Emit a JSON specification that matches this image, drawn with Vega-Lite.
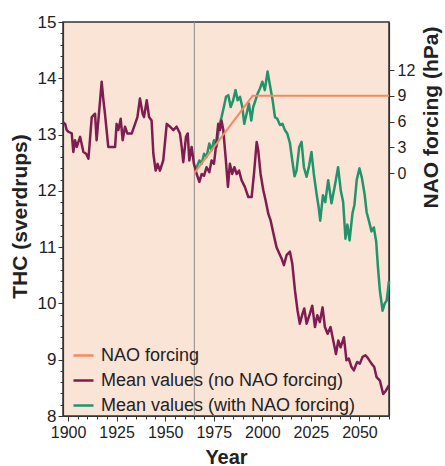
{
  "$schema": "https://vega.github.io/schema/vega-lite/v6.json",
  "width": 326,
  "height": 394,
  "autosize": {"type": "none"},
  "padding": {"left": 63, "top": 22, "right": 56, "bottom": 50},
  "background": "white",
  "config": {
    "font": "Liberation Sans",
    "view": {"fill": "#fae4d6", "stroke": "#333333", "strokeWidth": 1.5},
    "axis": {"domainColor": "#333333", "domainWidth": 1.2, "tickColor": "#333333", "labelColor": "#222222", "titleColor": "#222222", "titleFontWeight": "bold", "grid": false, "labelOverlap": false}
  },
  "datasets": {
    "marker": [{"year": 1965}],
    "nao": [
      {"year": 1965, "series": "NAO forcing", "value": 0},
      {"year": 1995, "series": "NAO forcing", "value": 9},
      {"year": 2065.2, "series": "NAO forcing", "value": 9}
    ],
    "thc": [
      {"year": 1965.0, "series": "Mean values (with NAO forcing)", "value": 12.42},
      {"year": 1966.2, "series": "Mean values (with NAO forcing)", "value": 12.42},
      {"year": 1967.6, "series": "Mean values (with NAO forcing)", "value": 12.54},
      {"year": 1968.8, "series": "Mean values (with NAO forcing)", "value": 12.48},
      {"year": 1970.0, "series": "Mean values (with NAO forcing)", "value": 12.66},
      {"year": 1971.3, "series": "Mean values (with NAO forcing)", "value": 12.60},
      {"year": 1972.7, "series": "Mean values (with NAO forcing)", "value": 12.84},
      {"year": 1973.9, "series": "Mean values (with NAO forcing)", "value": 12.72},
      {"year": 1975.1, "series": "Mean values (with NAO forcing)", "value": 12.90},
      {"year": 1976.5, "series": "Mean values (with NAO forcing)", "value": 12.78},
      {"year": 1977.7, "series": "Mean values (with NAO forcing)", "value": 13.14},
      {"year": 1979.0, "series": "Mean values (with NAO forcing)", "value": 13.31},
      {"year": 1980.2, "series": "Mean values (with NAO forcing)", "value": 13.49},
      {"year": 1981.3, "series": "Mean values (with NAO forcing)", "value": 13.67},
      {"year": 1982.5, "series": "Mean values (with NAO forcing)", "value": 13.70},
      {"year": 1983.7, "series": "Mean values (with NAO forcing)", "value": 13.49},
      {"year": 1985.0, "series": "Mean values (with NAO forcing)", "value": 13.61},
      {"year": 1986.2, "series": "Mean values (with NAO forcing)", "value": 13.79},
      {"year": 1987.3, "series": "Mean values (with NAO forcing)", "value": 13.61},
      {"year": 1988.5, "series": "Mean values (with NAO forcing)", "value": 13.67},
      {"year": 1989.7, "series": "Mean values (with NAO forcing)", "value": 13.49},
      {"year": 1990.7, "series": "Mean values (with NAO forcing)", "value": 13.19},
      {"year": 1991.9, "series": "Mean values (with NAO forcing)", "value": 13.37},
      {"year": 1993.1, "series": "Mean values (with NAO forcing)", "value": 13.55},
      {"year": 1994.3, "series": "Mean values (with NAO forcing)", "value": 13.25},
      {"year": 1995.3, "series": "Mean values (with NAO forcing)", "value": 13.49},
      {"year": 1996.5, "series": "Mean values (with NAO forcing)", "value": 13.61},
      {"year": 1997.6, "series": "Mean values (with NAO forcing)", "value": 13.73},
      {"year": 1998.8, "series": "Mean values (with NAO forcing)", "value": 13.82},
      {"year": 2000.0, "series": "Mean values (with NAO forcing)", "value": 13.94},
      {"year": 2001.3, "series": "Mean values (with NAO forcing)", "value": 13.79},
      {"year": 2002.7, "series": "Mean values (with NAO forcing)", "value": 14.12},
      {"year": 2003.9, "series": "Mean values (with NAO forcing)", "value": 13.88},
      {"year": 2005.3, "series": "Mean values (with NAO forcing)", "value": 13.61},
      {"year": 2006.5, "series": "Mean values (with NAO forcing)", "value": 13.31},
      {"year": 2007.7, "series": "Mean values (with NAO forcing)", "value": 13.28},
      {"year": 2009.1, "series": "Mean values (with NAO forcing)", "value": 13.17},
      {"year": 2010.4, "series": "Mean values (with NAO forcing)", "value": 13.19},
      {"year": 2011.6, "series": "Mean values (with NAO forcing)", "value": 13.08},
      {"year": 2012.8, "series": "Mean values (with NAO forcing)", "value": 13.02},
      {"year": 2014.2, "series": "Mean values (with NAO forcing)", "value": 12.85},
      {"year": 2015.4, "series": "Mean values (with NAO forcing)", "value": 12.54},
      {"year": 2016.6, "series": "Mean values (with NAO forcing)", "value": 12.26},
      {"year": 2017.6, "series": "Mean values (with NAO forcing)", "value": 12.36},
      {"year": 2019.0, "series": "Mean values (with NAO forcing)", "value": 12.78},
      {"year": 2020.2, "series": "Mean values (with NAO forcing)", "value": 12.87},
      {"year": 2021.4, "series": "Mean values (with NAO forcing)", "value": 12.42},
      {"year": 2022.8, "series": "Mean values (with NAO forcing)", "value": 12.25},
      {"year": 2024.1, "series": "Mean values (with NAO forcing)", "value": 12.45},
      {"year": 2025.3, "series": "Mean values (with NAO forcing)", "value": 12.69},
      {"year": 2026.5, "series": "Mean values (with NAO forcing)", "value": 12.30},
      {"year": 2027.9, "series": "Mean values (with NAO forcing)", "value": 11.95},
      {"year": 2029.0, "series": "Mean values (with NAO forcing)", "value": 11.71},
      {"year": 2029.8, "series": "Mean values (with NAO forcing)", "value": 11.47},
      {"year": 2031.2, "series": "Mean values (with NAO forcing)", "value": 11.92},
      {"year": 2032.4, "series": "Mean values (with NAO forcing)", "value": 11.80},
      {"year": 2033.9, "series": "Mean values (with NAO forcing)", "value": 12.19},
      {"year": 2035.6, "series": "Mean values (with NAO forcing)", "value": 11.78},
      {"year": 2037.2, "series": "Mean values (with NAO forcing)", "value": 12.07},
      {"year": 2039.0, "series": "Mean values (with NAO forcing)", "value": 12.42},
      {"year": 2040.4, "series": "Mean values (with NAO forcing)", "value": 12.00},
      {"year": 2041.6, "series": "Mean values (with NAO forcing)", "value": 11.80},
      {"year": 2042.8, "series": "Mean values (with NAO forcing)", "value": 11.15},
      {"year": 2043.8, "series": "Mean values (with NAO forcing)", "value": 11.40},
      {"year": 2044.9, "series": "Mean values (with NAO forcing)", "value": 11.12},
      {"year": 2046.4, "series": "Mean values (with NAO forcing)", "value": 11.60},
      {"year": 2047.4, "series": "Mean values (with NAO forcing)", "value": 11.75},
      {"year": 2048.6, "series": "Mean values (with NAO forcing)", "value": 12.20},
      {"year": 2050.0, "series": "Mean values (with NAO forcing)", "value": 12.40},
      {"year": 2051.2, "series": "Mean values (with NAO forcing)", "value": 12.24},
      {"year": 2052.6, "series": "Mean values (with NAO forcing)", "value": 11.95},
      {"year": 2053.7, "series": "Mean values (with NAO forcing)", "value": 11.62},
      {"year": 2055.0, "series": "Mean values (with NAO forcing)", "value": 11.45},
      {"year": 2056.2, "series": "Mean values (with NAO forcing)", "value": 11.28},
      {"year": 2057.4, "series": "Mean values (with NAO forcing)", "value": 11.35},
      {"year": 2058.6, "series": "Mean values (with NAO forcing)", "value": 11.10},
      {"year": 2059.5, "series": "Mean values (with NAO forcing)", "value": 10.65},
      {"year": 2060.5, "series": "Mean values (with NAO forcing)", "value": 10.23},
      {"year": 2061.9, "series": "Mean values (with NAO forcing)", "value": 9.87},
      {"year": 2063.0, "series": "Mean values (with NAO forcing)", "value": 10.00},
      {"year": 2064.0, "series": "Mean values (with NAO forcing)", "value": 10.05},
      {"year": 2065.2, "series": "Mean values (with NAO forcing)", "value": 10.40},
      {"year": 1897.4, "series": "Mean values (no NAO forcing)", "value": 13.22},
      {"year": 1898.5, "series": "Mean values (no NAO forcing)", "value": 13.19},
      {"year": 1899.3, "series": "Mean values (no NAO forcing)", "value": 13.08},
      {"year": 1900.2, "series": "Mean values (no NAO forcing)", "value": 13.05},
      {"year": 1901.9, "series": "Mean values (no NAO forcing)", "value": 13.02},
      {"year": 1902.7, "series": "Mean values (no NAO forcing)", "value": 12.69},
      {"year": 1903.6, "series": "Mean values (no NAO forcing)", "value": 12.90},
      {"year": 1904.5, "series": "Mean values (no NAO forcing)", "value": 12.78},
      {"year": 1906.2, "series": "Mean values (no NAO forcing)", "value": 12.96},
      {"year": 1907.9, "series": "Mean values (no NAO forcing)", "value": 12.69},
      {"year": 1909.3, "series": "Mean values (no NAO forcing)", "value": 12.66},
      {"year": 1910.5, "series": "Mean values (no NAO forcing)", "value": 12.57},
      {"year": 1912.2, "series": "Mean values (no NAO forcing)", "value": 13.31},
      {"year": 1913.9, "series": "Mean values (no NAO forcing)", "value": 13.37},
      {"year": 1914.7, "series": "Mean values (no NAO forcing)", "value": 12.90},
      {"year": 1916.5, "series": "Mean values (no NAO forcing)", "value": 13.61},
      {"year": 1917.3, "series": "Mean values (no NAO forcing)", "value": 13.94},
      {"year": 1918.2, "series": "Mean values (no NAO forcing)", "value": 13.61},
      {"year": 1919.0, "series": "Mean values (no NAO forcing)", "value": 13.37},
      {"year": 1920.7, "series": "Mean values (no NAO forcing)", "value": 12.78},
      {"year": 1922.5, "series": "Mean values (no NAO forcing)", "value": 12.78},
      {"year": 1924.2, "series": "Mean values (no NAO forcing)", "value": 12.78},
      {"year": 1925.0, "series": "Mean values (no NAO forcing)", "value": 13.19},
      {"year": 1925.9, "series": "Mean values (no NAO forcing)", "value": 13.08},
      {"year": 1927.1, "series": "Mean values (no NAO forcing)", "value": 13.28},
      {"year": 1928.1, "series": "Mean values (no NAO forcing)", "value": 12.90},
      {"year": 1929.3, "series": "Mean values (no NAO forcing)", "value": 13.14},
      {"year": 1930.5, "series": "Mean values (no NAO forcing)", "value": 13.02},
      {"year": 1932.8, "series": "Mean values (no NAO forcing)", "value": 13.02},
      {"year": 1934.5, "series": "Mean values (no NAO forcing)", "value": 13.19},
      {"year": 1935.7, "series": "Mean values (no NAO forcing)", "value": 13.31},
      {"year": 1937.0, "series": "Mean values (no NAO forcing)", "value": 13.64},
      {"year": 1938.4, "series": "Mean values (no NAO forcing)", "value": 13.37},
      {"year": 1939.1, "series": "Mean values (no NAO forcing)", "value": 13.31},
      {"year": 1940.5, "series": "Mean values (no NAO forcing)", "value": 13.61},
      {"year": 1941.7, "series": "Mean values (no NAO forcing)", "value": 13.31},
      {"year": 1943.0, "series": "Mean values (no NAO forcing)", "value": 13.25},
      {"year": 1943.9, "series": "Mean values (no NAO forcing)", "value": 12.66},
      {"year": 1945.1, "series": "Mean values (no NAO forcing)", "value": 12.36},
      {"year": 1946.1, "series": "Mean values (no NAO forcing)", "value": 12.48},
      {"year": 1947.3, "series": "Mean values (no NAO forcing)", "value": 12.36},
      {"year": 1949.0, "series": "Mean values (no NAO forcing)", "value": 12.54},
      {"year": 1950.8, "series": "Mean values (no NAO forcing)", "value": 13.19},
      {"year": 1952.5, "series": "Mean values (no NAO forcing)", "value": 13.14},
      {"year": 1954.2, "series": "Mean values (no NAO forcing)", "value": 13.08},
      {"year": 1955.9, "series": "Mean values (no NAO forcing)", "value": 13.14},
      {"year": 1957.6, "series": "Mean values (no NAO forcing)", "value": 13.02},
      {"year": 1958.5, "series": "Mean values (no NAO forcing)", "value": 12.78},
      {"year": 1959.3, "series": "Mean values (no NAO forcing)", "value": 12.51},
      {"year": 1960.7, "series": "Mean values (no NAO forcing)", "value": 12.96},
      {"year": 1961.6, "series": "Mean values (no NAO forcing)", "value": 13.02},
      {"year": 1962.4, "series": "Mean values (no NAO forcing)", "value": 12.54},
      {"year": 1963.6, "series": "Mean values (no NAO forcing)", "value": 12.78},
      {"year": 1964.8, "series": "Mean values (no NAO forcing)", "value": 12.48},
      {"year": 1966.2, "series": "Mean values (no NAO forcing)", "value": 12.30},
      {"year": 1967.6, "series": "Mean values (no NAO forcing)", "value": 12.16},
      {"year": 1968.8, "series": "Mean values (no NAO forcing)", "value": 12.30},
      {"year": 1970.0, "series": "Mean values (no NAO forcing)", "value": 12.27},
      {"year": 1971.3, "series": "Mean values (no NAO forcing)", "value": 12.42},
      {"year": 1972.7, "series": "Mean values (no NAO forcing)", "value": 12.33},
      {"year": 1973.9, "series": "Mean values (no NAO forcing)", "value": 12.54},
      {"year": 1975.1, "series": "Mean values (no NAO forcing)", "value": 12.48},
      {"year": 1976.1, "series": "Mean values (no NAO forcing)", "value": 12.78},
      {"year": 1977.3, "series": "Mean values (no NAO forcing)", "value": 13.19},
      {"year": 1978.2, "series": "Mean values (no NAO forcing)", "value": 13.08},
      {"year": 1979.0, "series": "Mean values (no NAO forcing)", "value": 13.25},
      {"year": 1979.9, "series": "Mean values (no NAO forcing)", "value": 13.08},
      {"year": 1981.1, "series": "Mean values (no NAO forcing)", "value": 12.60},
      {"year": 1982.3, "series": "Mean values (no NAO forcing)", "value": 12.07},
      {"year": 1983.3, "series": "Mean values (no NAO forcing)", "value": 12.48},
      {"year": 1984.5, "series": "Mean values (no NAO forcing)", "value": 12.30},
      {"year": 1985.6, "series": "Mean values (no NAO forcing)", "value": 12.42},
      {"year": 1986.8, "series": "Mean values (no NAO forcing)", "value": 12.30},
      {"year": 1988.0, "series": "Mean values (no NAO forcing)", "value": 12.36},
      {"year": 1989.3, "series": "Mean values (no NAO forcing)", "value": 12.19},
      {"year": 1991.0, "series": "Mean values (no NAO forcing)", "value": 12.07},
      {"year": 1992.8, "series": "Mean values (no NAO forcing)", "value": 11.89},
      {"year": 1994.5, "series": "Mean values (no NAO forcing)", "value": 11.89},
      {"year": 1995.7, "series": "Mean values (no NAO forcing)", "value": 12.30},
      {"year": 1997.1, "series": "Mean values (no NAO forcing)", "value": 12.87},
      {"year": 1997.9, "series": "Mean values (no NAO forcing)", "value": 12.72},
      {"year": 1999.1, "series": "Mean values (no NAO forcing)", "value": 12.30},
      {"year": 2000.5, "series": "Mean values (no NAO forcing)", "value": 12.01},
      {"year": 2001.7, "series": "Mean values (no NAO forcing)", "value": 11.83},
      {"year": 2003.1, "series": "Mean values (no NAO forcing)", "value": 11.59},
      {"year": 2004.3, "series": "Mean values (no NAO forcing)", "value": 11.47},
      {"year": 2005.6, "series": "Mean values (no NAO forcing)", "value": 11.26},
      {"year": 2007.3, "series": "Mean values (no NAO forcing)", "value": 11.00},
      {"year": 2009.9, "series": "Mean values (no NAO forcing)", "value": 10.80},
      {"year": 2011.1, "series": "Mean values (no NAO forcing)", "value": 10.68},
      {"year": 2012.5, "series": "Mean values (no NAO forcing)", "value": 10.86},
      {"year": 2014.2, "series": "Mean values (no NAO forcing)", "value": 10.92},
      {"year": 2015.4, "series": "Mean values (no NAO forcing)", "value": 10.71},
      {"year": 2016.8, "series": "Mean values (no NAO forcing)", "value": 10.23},
      {"year": 2018.1, "series": "Mean values (no NAO forcing)", "value": 9.88},
      {"year": 2019.3, "series": "Mean values (no NAO forcing)", "value": 9.64},
      {"year": 2020.7, "series": "Mean values (no NAO forcing)", "value": 9.82},
      {"year": 2021.6, "series": "Mean values (no NAO forcing)", "value": 9.91},
      {"year": 2022.8, "series": "Mean values (no NAO forcing)", "value": 9.64},
      {"year": 2024.5, "series": "Mean values (no NAO forcing)", "value": 9.82},
      {"year": 2025.7, "series": "Mean values (no NAO forcing)", "value": 9.96},
      {"year": 2027.1, "series": "Mean values (no NAO forcing)", "value": 9.58},
      {"year": 2028.3, "series": "Mean values (no NAO forcing)", "value": 9.79},
      {"year": 2029.6, "series": "Mean values (no NAO forcing)", "value": 9.67},
      {"year": 2031.0, "series": "Mean values (no NAO forcing)", "value": 9.93},
      {"year": 2032.2, "series": "Mean values (no NAO forcing)", "value": 9.58},
      {"year": 2033.6, "series": "Mean values (no NAO forcing)", "value": 9.46},
      {"year": 2035.1, "series": "Mean values (no NAO forcing)", "value": 9.58},
      {"year": 2036.5, "series": "Mean values (no NAO forcing)", "value": 9.34},
      {"year": 2037.9, "series": "Mean values (no NAO forcing)", "value": 9.10},
      {"year": 2039.1, "series": "Mean values (no NAO forcing)", "value": 9.34},
      {"year": 2040.3, "series": "Mean values (no NAO forcing)", "value": 9.22},
      {"year": 2042.0, "series": "Mean values (no NAO forcing)", "value": 9.40},
      {"year": 2043.3, "series": "Mean values (no NAO forcing)", "value": 8.99},
      {"year": 2044.5, "series": "Mean values (no NAO forcing)", "value": 9.02},
      {"year": 2045.9, "series": "Mean values (no NAO forcing)", "value": 8.87},
      {"year": 2047.1, "series": "Mean values (no NAO forcing)", "value": 8.81},
      {"year": 2048.8, "series": "Mean values (no NAO forcing)", "value": 8.96},
      {"year": 2050.2, "series": "Mean values (no NAO forcing)", "value": 8.93},
      {"year": 2051.6, "series": "Mean values (no NAO forcing)", "value": 9.05},
      {"year": 2053.1, "series": "Mean values (no NAO forcing)", "value": 9.08},
      {"year": 2054.5, "series": "Mean values (no NAO forcing)", "value": 9.02},
      {"year": 2056.2, "series": "Mean values (no NAO forcing)", "value": 8.93},
      {"year": 2057.6, "series": "Mean values (no NAO forcing)", "value": 8.87},
      {"year": 2058.8, "series": "Mean values (no NAO forcing)", "value": 8.69},
      {"year": 2060.5, "series": "Mean values (no NAO forcing)", "value": 8.63},
      {"year": 2062.2, "series": "Mean values (no NAO forcing)", "value": 8.39},
      {"year": 2063.6, "series": "Mean values (no NAO forcing)", "value": 8.45},
      {"year": 2065.2, "series": "Mean values (no NAO forcing)", "value": 8.55}
    ]
  },
  "encoding": {
    "x": {
      "field": "year", "type": "quantitative",
      "scale": {"domain": [1897.4, 2065.2], "nice": false, "zero": false},
      "axis": {
        "title": "Year", "titleFontSize": 20, "titleY": 31, "titleBaseline": "top",
        "values": [1900,1905,1910,1915,1920,1925,1930,1935,1940,1945,1950,1955,1960,1965,1970,1975,1980,1985,1990,1995,2000,2005,2010,2015,2020,2025,2030,2035,2040,2045,2050,2055,2060,2065],
        "format": "d",
        "labelExpr": "datum.value % 25 === 0 ? datum.label : ''",
        "labelOverlap": false,
        "labelFontSize": 16, "labelPadding": 3, "labelFlush": false,
        "tickSize": {"condition": {"test": "datum.value % 25 === 0", "value": 5}, "value": 3}
      }
    }
  },
  "layer": [
    {
      "data": {"name": "marker"},
      "mark": {"type": "rule", "color": "#8c8c8c", "strokeWidth": 1}
    },
    {
      "data": {"name": "thc"},
      "mark": {"type": "line", "strokeWidth": 2.5, "strokeJoin": "round"},
      "encoding": {
        "y": {
          "field": "value", "type": "quantitative",
          "scale": {"domain": [8, 15], "nice": false, "zero": false},
          "axis": {
            "title": "THC (sverdrups)", "titleFontSize": 21, "titleAngle": -90,
            "titleX": -43, "titleY": 194, "titleAlign": "center", "titleBaseline": "middle",
            "values": [8,8.2,8.4,8.6,8.8,9,9.2,9.4,9.6,9.8,10,10.2,10.4,10.6,10.8,11,11.2,11.4,11.6,11.8,12,12.2,12.4,12.6,12.8,13,13.2,13.4,13.6,13.8,14,14.2,14.4,14.6,14.8,15],
            "labelExpr": "abs(datum.value - round(datum.value)) < 0.001 ? format(datum.value, 'd') : ''",
            "labelOverlap": false,
            "labelFontSize": 17, "labelPadding": 2,
            "tickSize": {"condition": {"test": "abs(datum.value - round(datum.value)) < 0.001", "value": 5}, "value": 3}
          }
        },
        "color": {
          "field": "series", "type": "nominal",
          "scale": {"domain": ["NAO forcing", "Mean values (no NAO forcing)", "Mean values (with NAO forcing)"], "range": ["#f28a62", "#7e1d50", "#23936b"]},
          "legend": {"orient": "none", "legendX": 9, "legendY": 322, "title": null, "labelFontSize": 18, "labelLimit": 400, "labelColor": "#222222", "symbolType": "stroke", "symbolSize": 400, "symbolStrokeWidth": 2.5, "rowPadding": 4, "labelOffset": 6, "padding": 0}
        }
      }
    },
    {
      "data": {"name": "nao"},
      "mark": {"type": "line", "strokeWidth": 2},
      "encoding": {
        "y": {
          "field": "value", "type": "quantitative",
          "scale": {"domain": [-28.3, 17.6], "nice": false, "zero": false},
          "axis": {
            "orient": "right", "title": "NAO forcing (hPa)", "titleFontSize": 21, "titleAngle": -90,
            "titleX": 42, "titleY": 95, "titleAlign": "center", "titleBaseline": "middle",
            "values": [0, 3, 6, 9, 12], "labelFontSize": 16, "labelPadding": 3, "tickSize": 5
          }
        },
        "color": {
          "field": "series", "type": "nominal",
          "legend": {"orient": "none", "legendX": 9, "legendY": 322, "title": null, "labelFontSize": 18, "labelLimit": 400, "labelColor": "#222222", "symbolType": "stroke", "symbolSize": 400, "symbolStrokeWidth": 2.5, "rowPadding": 4, "labelOffset": 6, "padding": 0}
        }
      }
    }
  ],
  "resolve": {"scale": {"y": "independent"}, "axis": {"y": "independent"}}
}
